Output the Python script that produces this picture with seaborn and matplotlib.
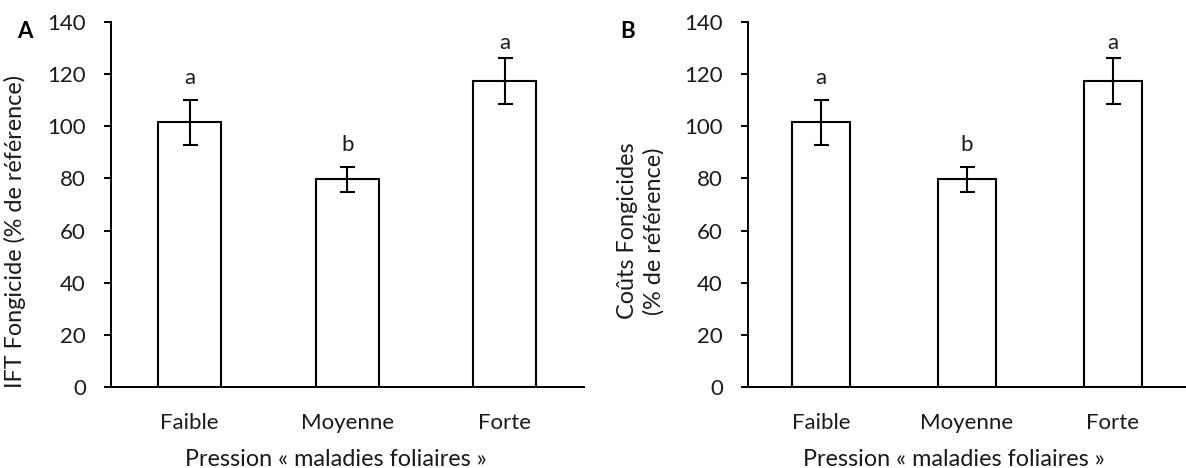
import matplotlib
matplotlib.use("Agg")
import matplotlib.pyplot as plt
import seaborn as sns
import pandas as pd
import numpy as np

categories = ["Faible", "Moyenne", "Forte"]
ift_values = [101.6, 79.7, 117.5]
ift_errors = [8.6, 4.8, 8.8]
cout_values = [101.6, 79.7, 117.5]
cout_errors = [8.6, 4.8, 8.8]
letters = ["a", "b", "a"]
yticks = [0, 20, 40, 60, 80, 100, 120, 140]

sns.set_theme(style="white")
plt.rcParams['font.family'] = ['Lato', 'DejaVu Sans']

W, H = 1186, 468
fig = plt.figure(figsize=(W / 100, H / 100), dpi=100)
y0, y1 = 387, 22
axA = fig.add_axes([111 / W, 1 - y0 / H, 472.5 / W, (y0 - y1) / H])
axB = fig.add_axes([748 / W, 1 - y0 / H, 438 / W, (y0 - y1) / H])

FS = 16
FSL = 16.8
TXT = "#1a1a1a"
LETTER_CEIL = 129.6

def panel(ax, values, errors, ylabel, ylab_x, tag, tag_x, xlab_c):
    df = pd.DataFrame({"cat": categories, "val": values})
    sns.barplot(data=df, x="cat", y="val", ax=ax, color="white",
                edgecolor="black", linewidth=1.5, width=0.4, errorbar=None)
    x = np.arange(len(categories))
    ax.errorbar(x, values, yerr=errors, fmt="none", ecolor="black",
                elinewidth=1.5, capsize=5.4, capthick=1.5)
    for xi, v, e, l in zip(x, values, errors, letters):
        base = min(v + e + 6.1, LETTER_CEIL)
        ax.text(xi, base, l, ha="center", va="baseline", fontsize=FS, color=TXT)
    ax.set_ylim(0, 140)
    ax.set_xlim(-0.5, 2.5)
    ax.set_yticks(yticks)
    ax.set_yticklabels([str(t) for t in yticks])
    for s in ["top", "right"]:
        ax.spines[s].set_visible(False)
    for s in ["left", "bottom"]:
        ax.spines[s].set_color("black")
        ax.spines[s].set_linewidth(1.4)
    ax.tick_params(axis="y", left=True, length=5, width=1.4, color="black",
                   labelsize=FS, labelcolor=TXT, pad=13)
    ax.tick_params(axis="x", bottom=False, length=0, labelsize=FS, labelcolor=TXT, pad=19)
    ax.set_xlabel("Pression « maladies foliaires »", fontsize=FSL, color=TXT)
    ax.xaxis.set_label_coords(xlab_c, (387 - 459) / 365)
    ax.xaxis.label.set_va("center")
    ax.set_ylabel("")
    fig.text(ylab_x / W, 1 - 231 / H, ylabel, rotation=90, ha="center", va="center",
             multialignment="center", fontsize=FSL, color=TXT, linespacing=1.3)
    fig.text(tag_x / W, 1 - 32 / H, tag, fontsize=FS, fontweight="bold",
             ha="center", va="center", color="black")

panel(axA, ift_values, ift_errors, "IFT Fongicide (% de référence)", 15, "A", 25, 0.476)
panel(axB, cout_values, cout_errors, "Coûts Fongicides\n(% de référence)", 641, "B", 628, 0.47)

fig.savefig("out.png", dpi=100, facecolor="white")
